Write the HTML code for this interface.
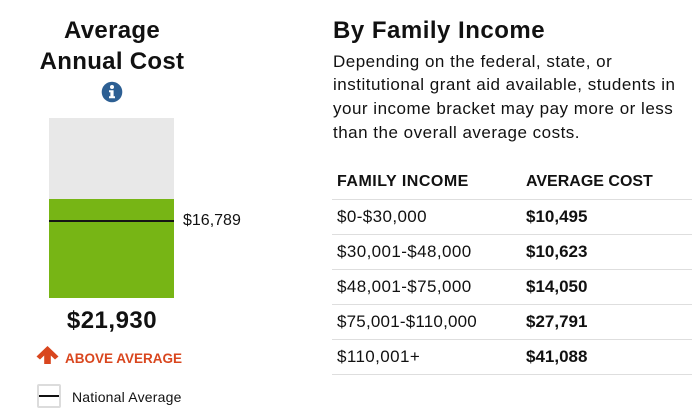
<!DOCTYPE html>
<html>
<head>
<meta charset="utf-8">
<style>
html,body{margin:0;padding:0;background:#fff;}
body{width:692px;height:412px;position:relative;overflow:hidden;font-family:"Liberation Sans",Arial,sans-serif;color:#111;}
.t{position:absolute;white-space:nowrap;line-height:1;}
.b{font-weight:bold;}
.hl{position:absolute;left:332px;width:360px;height:1px;background:#dedede;}
</style>
</head>
<body>
<!-- Left title -->
<div class="t b" style="left:0;width:224px;text-align:center;top:18.7px;font-size:24px;letter-spacing:0.3px;">Average</div>
<div class="t b" style="left:0;width:224px;text-align:center;top:49.7px;font-size:24px;letter-spacing:0.3px;">Annual Cost</div>
<svg style="position:absolute;left:101px;top:81px" width="22" height="22" viewBox="0 0 22 22">
  <circle cx="11" cy="11" r="10.3" fill="#2d5f93"/>
  <circle cx="11" cy="6" r="2" fill="#fff"/>
  <path d="M8 9.2 H12.6 V15.2 H14 V17.3 H8 V15.2 H9.4 V11.2 H8 Z" fill="#fff"/>
</svg>

<!-- Bar -->
<div style="position:absolute;left:49px;top:118px;width:125px;height:81px;background:#e8e8e8;"></div>
<div style="position:absolute;left:49px;top:199px;width:125px;height:99px;background:#77b515;"></div>
<div style="position:absolute;left:49px;top:220px;width:125px;height:2px;background:#151515;"></div>
<div class="t" style="left:183px;top:213px;font-size:16px;">$16,789</div>

<div class="t b" style="left:0;width:224px;text-align:center;top:308.7px;font-size:24px;letter-spacing:0.5px;">$21,930</div>

<svg style="position:absolute;left:35px;top:345px" width="26" height="21" viewBox="35 345 26 21">
  <polygon points="47.5,346 58.5,356.5 55,359.5 50.8,355.5 50.8,364 44.2,364 44.2,355.5 40,359.5 36.5,356.5" fill="#d9461e"/>
</svg>
<div class="t b" style="left:65px;top:351.6px;font-size:13.5px;color:#d9461e;">ABOVE AVERAGE</div>

<!-- Legend -->
<div style="position:absolute;left:37px;top:384px;width:20px;height:20px;border:2px solid #dcdcdc;border-radius:2px;"></div>
<div style="position:absolute;left:39px;top:395px;width:20px;height:2px;background:#111;"></div>
<div class="t" style="left:72px;top:390.1px;font-size:14px;letter-spacing:0.2px;">National Average</div>

<!-- Right side -->
<div class="t b" style="left:333px;top:18.7px;font-size:24px;letter-spacing:0.5px;">By Family Income</div>
<div class="t" style="left:333px;top:52.6px;font-size:17px;letter-spacing:0.5px;">Depending on the federal, state, or</div>
<div class="t" style="left:333px;top:76.3px;font-size:17px;letter-spacing:0.5px;">institutional grant aid available, students in</div>
<div class="t" style="left:333px;top:99.9px;font-size:17px;letter-spacing:0.5px;">your income bracket may pay more or less</div>
<div class="t" style="left:333px;top:123.6px;font-size:17px;letter-spacing:0.5px;">than the overall average costs.</div>

<div class="t b" style="left:337px;top:173.5px;font-size:16px;letter-spacing:0.5px;">FAMILY INCOME</div>
<div class="t b" style="left:526px;top:173.5px;font-size:16px;">AVERAGE COST</div>

<div class="hl" style="top:199px;"></div>
<div class="hl" style="top:234px;"></div>
<div class="hl" style="top:269px;"></div>
<div class="hl" style="top:304px;"></div>
<div class="hl" style="top:339px;"></div>
<div class="hl" style="top:374px;"></div>

<div class="t" style="left:337px;top:207.6px;font-size:17px;letter-spacing:0.4px;">$0-$30,000</div>
<div class="t b" style="left:526px;top:207.6px;font-size:17px;">$10,495</div>
<div class="t" style="left:337px;top:242.6px;font-size:17px;letter-spacing:0.4px;">$30,001-$48,000</div>
<div class="t b" style="left:526px;top:242.6px;font-size:17px;">$10,623</div>
<div class="t" style="left:337px;top:277.6px;font-size:17px;letter-spacing:0.4px;">$48,001-$75,000</div>
<div class="t b" style="left:526px;top:277.6px;font-size:17px;">$14,050</div>
<div class="t" style="left:337px;top:312.6px;font-size:17px;letter-spacing:0.2px;">$75,001-$110,000</div>
<div class="t b" style="left:526px;top:312.6px;font-size:17px;">$27,791</div>
<div class="t" style="left:337px;top:347.6px;font-size:17px;letter-spacing:0.4px;">$110,001+</div>
<div class="t b" style="left:526px;top:347.6px;font-size:17px;">$41,088</div>
</body>
</html>
